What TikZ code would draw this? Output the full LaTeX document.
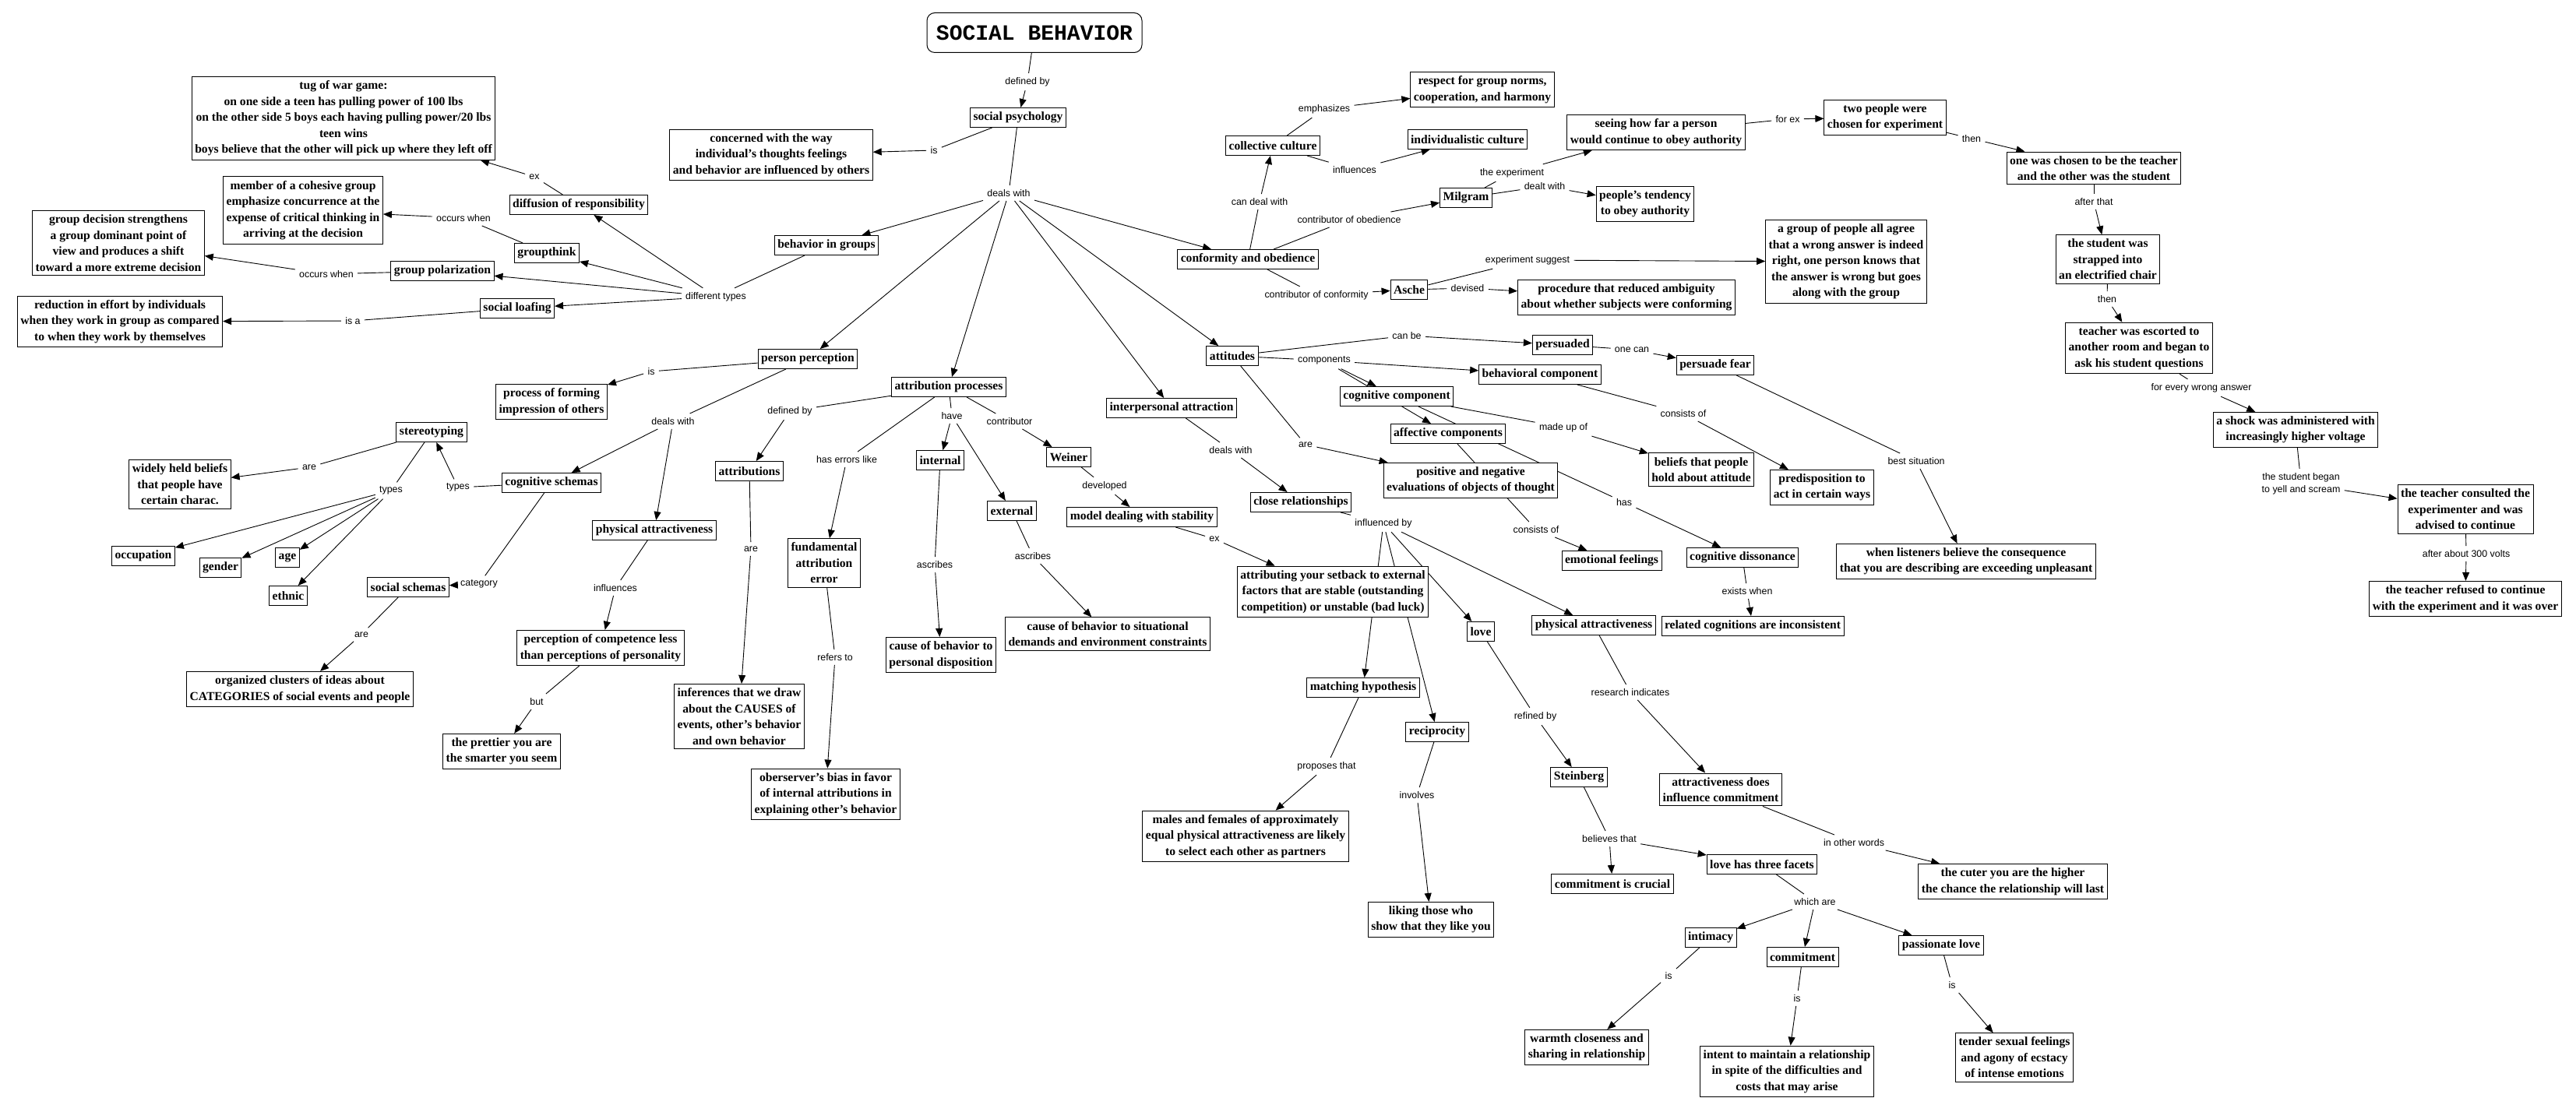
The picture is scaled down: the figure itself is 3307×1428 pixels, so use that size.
\documentclass[tikz,border=0pt]{standalone}
\usepackage{fontspec}
\setmainfont{Liberation Serif}
\setsansfont{Liberation Sans}
\setmonofont{Liberation Mono}
\usetikzlibrary{arrows.meta}
\pgfdeclarelayer{background}
\pgfsetlayers{background,main}

\begin{document}
\begin{tikzpicture}[
  x=0.5pt, y=-0.5pt,
  concept/.style={draw=black, line width=0.5pt, fill=white, align=center,
    inner xsep=2pt, inner ysep=2.6pt, minimum height=12.5pt,
    font=\fontsize{7.8}{10.25}\selectfont\bfseries},
  topic/.style={concept, rounded corners=5pt, minimum width=138pt,
    minimum height=25.5pt, font=\ttfamily\bfseries\fontsize{14}{16}\selectfont},
  phrase/.style={inner sep=2.5pt, align=center,
    font=\sffamily\fontsize{6.2}{8}\selectfont},
  tie/.style={line width=0.45pt, draw=black},
  tiearrow/.style={tie, -{Triangle[length=5.5pt,width=4.5pt]}}
]
\useasboundingbox (0,0) rectangle (3307,1428);
\begin{pgfonlayer}{background}
\fill[white] (0,0) rectangle (3307,1428);
\end{pgfonlayer}

\node[topic] (title) at (1328,42) {SOCIAL BEHAVIOR};
\node[concept] (socpsy) at (1307,151) {social psychology};
\node[concept] (concerned) at (990,199)
  {concerned with the way\\individual's thoughts feelings\\and behavior are influenced by others};
\node[concept] (groups) at (1061,315) {behavior in groups};
\node[concept] (diffusion) at (743,263) {diffusion of responsibility};
\node[concept] (tug) at (441,152)
  {tug of war game:\\on one side a teen has pulling power of 100 lbs\\on the other side 5 boys each having pulling power/20 lbs\\teen wins\\boys believe that the other will pick up where they left off};
\node[concept] (member) at (389,270)
  {member of a cohesive group\\emphasize concurrence at the\\expense of critical thinking in\\arriving at the decision};
\node[concept] (groupthink) at (702,325) {groupthink};
\node[concept] (decision) at (152,312)
  {group decision strengthens\\a group dominant point of\\view and produces a shift\\toward a more extreme decision};
\node[concept] (polar) at (568,348) {group polarization};
\node[concept] (loafing) at (664,396) {social loafing};
\node[concept] (reduction) at (154,413)
  {reduction in effort by individuals\\when they work in group as compared\\to when they work by themselves};

\node[concept] (conform) at (1602,333) {conformity and obedience};
\node[concept] (collective) at (1634,187) {collective culture};
\node[concept] (respect) at (1903,115) {respect for group norms,\\cooperation, and harmony};
\node[concept] (indiv) at (1884,179) {individualistic culture};
\node[concept] (milgram) at (1882,254) {Milgram};
\node[concept] (seeing) at (2126,170)
  {seeing how far a person\\would continue to obey authority};
\node[concept] (tendency) at (2112,262) {people's tendency\\to obey authority};
\node[concept] (twopeople) at (2420,151) {two people were\\chosen for experiment};
\node[concept] (chosen) at (2688,216)
  {one was chosen to be the teacher\\and the other was the student};
\node[concept] (strapped) at (2706,333)
  {the student was\\strapped into\\an electrified chair};
\node[concept] (escorted) at (2746,447)
  {teacher was escorted to\\another room and began to\\ask his student  questions};
\node[concept] (shock) at (2947,552)
  {a shock was administered with\\increasingly higher voltage};
\node[concept] (consulted) at (3165,654)
  {the teacher consulted the\\experimenter and was\\advised to continue};
\node[concept] (refused) at (3165,769)
  {the teacher refused to continue\\with the experiment and it was over};
\node[concept] (asche) at (1809,372) {Asche};
\node[concept] (agree) at (2370,336)
  {a group of people all agree\\that a wrong answer is indeed\\right, one person knows that\\the answer is wrong but goes\\along with the group};
\node[concept] (procedure) at (2088,382)
  {procedure that reduced ambiguity\\about whether subjects were conforming};

\node[concept] (attitudes) at (1582,457) {attitudes};
\node[concept] (persuaded) at (2006,443) {persuaded};
\node[concept] (fear) at (2202,469) {persuade fear};
\node[concept] (listeners) at (2524,721)
  {when listeners believe the consequence\\that you are describing are exceeding unpleasant};
\node[concept] (behav) at (1977,481) {behavioral component};
\node[concept] (cogcomp) at (1793,509) {cognitive component};
\node[concept] (affect) at (1859,557) {affective components};
\node[concept] (posneg) at (1888,617)
  {positive and negative\\evaluations of objects of thought};
\node[concept] (beliefs) at (2184,603) {beliefs that people\\hold about attitude};
\node[concept] (predisp) at (2339,626) {predisposition to\\act in certain ways};
\node[concept] (emotional) at (2069,720) {emotional feelings};
\node[concept] (dissonance) at (2237,716) {cognitive dissonance};
\node[concept] (related) at (2250,804) {related cognitions are inconsistent};

\node[concept] (perception) at (1037,461) {person perception};
\node[concept] (forming) at (708,516) {process of forming\\impression of others};
\node[concept] (cogschema) at (708,620) {cognitive schemas};
\node[concept] (physleft) at (840,681) {physical attractiveness};
\node[concept] (stereo) at (554,555) {stereotyping};
\node[concept] (widely) at (231,622)
  {widely held beliefs\\that people have\\certain charac.};
\node[concept] (occupation) at (184,714) {occupation};
\node[concept] (gender) at (283,729) {gender};
\node[concept] (age) at (369,716) {age};
\node[concept] (ethnic) at (370,765) {ethnic};
\node[concept] (socschema) at (524,754) {social schemas};
\node[concept] (organized) at (385,885)
  {organized clusters of ideas about\\CATEGORIES of social events and people};
\node[concept] (competence) at (771,832)
  {perception of competence less\\than perceptions of personality};
\node[concept] (prettier) at (644,965) {the prettier you are\\the smarter you seem};

\node[concept] (attrproc) at (1218,497) {attribution processes};
\node[concept] (attributions) at (962,605) {attributions};
\node[concept] (fundamental) at (1058,723) {fundamental\\attribution\\error};
\node[concept] (internal) at (1207,591) {internal};
\node[concept] (external) at (1299,656) {external};
\node[concept] (weiner) at (1372,587) {Weiner};
\node[concept] (model) at (1466,664) {model dealing with stability};
\node[concept] (inferences) at (949,920)
  {inferences that we draw\\about the CAUSES of\\events, other's behavior\\and own behavior};
\node[concept] (bias) at (1060,1020)
  {oberserver's bias in favor\\of internal attributions in\\explaining other's behavior};
\node[concept] (personal) at (1208,841) {cause of behavior to\\personal disposition};
\node[concept] (situational) at (1422,814)
  {cause of behavior to situational\\demands and environment constraints};

\node[concept] (interpers) at (1504,524) {interpersonal attraction};
\node[concept] (closerel) at (1670,645) {close relationships};
\node[concept] (setback) at (1711,760)
  {attributing your setback to external\\factors that are stable (outstanding\\competition) or unstable (bad luck)};
\node[concept] (love) at (1901,811) {love};
\node[concept] (physright) at (2046,803) {physical attractiveness};
\node[concept] (matching) at (1750,883) {matching hypothesis};
\node[concept] (reciprocity) at (1845,940) {reciprocity};
\node[concept] (males) at (1599,1074)
  {males and females of approximately\\equal physical attractiveness are likely\\to select each other as partners};
\node[concept] (liking) at (1837,1181) {liking those who\\show that they like you};
\node[concept] (steinberg) at (2027,998) {Steinberg};
\node[concept] (attrdoes) at (2209,1014) {attractiveness does\\influence commitment};
\node[concept] (crucial) at (2070,1135) {commitment is crucial};
\node[concept] (facets) at (2262,1110) {love has three facets};
\node[concept] (cuter) at (2584,1132)
  {the cuter you are the higher\\the chance the relationship will last};
\node[concept] (intimacy) at (2196,1204) {intimacy};
\node[concept] (commitment) at (2314,1229) {commitment};
\node[concept] (passionate) at (2492,1214) {passionate love};
\node[concept] (warmth) at (2037,1345) {warmth closeness and\\sharing in relationship};
\node[concept] (intent) at (2294,1376)
  {intent to maintain a relationship\\in spite of the difficulties and\\costs that may arise};
\node[concept] (tender) at (2586,1358)
  {tender sexual feelings\\and agony of ecstacy\\of intense emotions};

\node[phrase] (ldef) at (1319,105) {defined by};
\node[phrase] (lis1) at (1199,193) {is};
\node[phrase] (ldeals) at (1295,248) {deals with};
\node[phrase] (ltypes) at (919,381) {different types};
\node[phrase] (lex1) at (686,227) {ex};
\node[phrase] (loccur1) at (595,280) {occurs when};
\node[phrase] (loccur2) at (419,352) {occurs when};
\node[phrase] (lisa) at (453,412) {is a};
\node[phrase] (lcandeal) at (1617,259) {can deal with};
\node[phrase] (lemph) at (1700,140) {emphasizes};
\node[phrase] (linflu) at (1739,218) {influences};
\node[phrase] (lobed) at (1732,282) {contributor of obedience};
\node[phrase] (lconf) at (1690,379) {contributor of conformity};
\node[phrase] (lexper) at (1941,222) {the experiment};
\node[phrase] (ldealt) at (1983,239) {dealt with};
\node[phrase] (lforex) at (2295,153) {for ex};
\node[phrase] (lthen1) at (2531,178) {then};
\node[phrase] (lafter) at (2688,259) {after that};
\node[phrase] (lthen2) at (2705,384) {then};
\node[phrase] (lwrong) at (2826,498) {for every wrong answer};
\node[phrase] (lyell) at (2954,621) {the student began\\to yell and scream};
\node[phrase] (l300) at (3166,711) {after about 300 volts};
\node[phrase] (lsuggest) at (1961,334) {experiment suggest};
\node[phrase] (ldevised) at (1884,370) {devised};
\node[phrase] (lcanbe) at (1806,431) {can be};
\node[phrase] (lonecan) at (2095,449) {one can};
\node[phrase] (lbest) at (2460,592) {best situation};
\node[phrase] (lcomp) at (1700,463) {components};
\node[phrase] (lare3) at (1676,571) {are};
\node[phrase] (lmade) at (2007,549) {made up of};
\node[phrase] (lconsist1) at (2161,531) {consists of};
\node[phrase] (lhas) at (2085,645) {has};
\node[phrase] (lconsist2) at (1972,680) {consists of};
\node[phrase] (lexists) at (2243,759) {exists when};
\node[phrase] (lis2) at (836,477) {is};
\node[phrase] (ldeals2) at (864,541) {deals with};
\node[phrase] (ltypes2) at (588,626) {types};
\node[phrase] (ltypes3) at (502,630) {types};
\node[phrase] (lare1) at (397,600) {are};
\node[phrase] (lcat) at (615,750) {category};
\node[phrase] (lare2) at (464,815) {are};
\node[phrase] (linflu2) at (790,755) {influences};
\node[phrase] (lbut) at (689,901) {but};
\node[phrase] (ldef2) at (1014,528) {defined by};
\node[phrase] (lerrors) at (1087,590) {has errors like};
\node[phrase] (lhave) at (1222,534) {have};
\node[phrase] (lcontrib) at (1296,541) {contributor};
\node[phrase] (ldevel) at (1418,624) {developed};
\node[phrase] (lex2) at (1559,692) {ex};
\node[phrase] (lare4) at (964,705) {are};
\node[phrase] (lrefers) at (1072,844) {refers to};
\node[phrase] (lascr1) at (1200,725) {ascribes};
\node[phrase] (lascr2) at (1326,714) {ascribes};
\node[phrase] (ldeals3) at (1580,578) {deals with};
\node[phrase] (linfby) at (1776,672) {influenced by};
\node[phrase] (lrefined) at (1971,920) {refined by};
\node[phrase] (lresearch) at (2093,889) {research indicates};
\node[phrase] (lproposes) at (1703,984) {proposes that};
\node[phrase] (linvolves) at (1819,1021) {involves};
\node[phrase] (lbelieves) at (2066,1077) {believes that};
\node[phrase] (lother) at (2380,1082) {in other words};
\node[phrase] (lwhich) at (2330,1158) {which are};
\node[phrase] (lis3) at (2142,1253) {is};
\node[phrase] (lis4) at (2307,1282) {is};
\node[phrase] (lis5) at (2506,1265) {is};

\begin{pgfonlayer}{background}
\draw[tie] (title) -- (ldef);
\draw[tiearrow] (ldef) -- (socpsy);
\draw[tie] (socpsy) -- (lis1);
\draw[tiearrow] (lis1) -- (concerned);
\draw[tie] (socpsy) -- (ldeals);
\draw[tiearrow] (ldeals) -- (groups);
\draw[tiearrow] (ldeals) -- (perception);
\draw[tiearrow] (ldeals) -- (attrproc);
\draw[tiearrow] (ldeals) -- (interpers);
\draw[tiearrow] (ldeals) -- (attitudes);
\draw[tiearrow] (ldeals) -- (conform);

\draw[tie] (groups) -- (ltypes);
\draw[tiearrow] (ltypes) -- (diffusion);
\draw[tiearrow] (ltypes) -- (groupthink);
\draw[tiearrow] (ltypes) -- (polar);
\draw[tiearrow] (ltypes) -- (loafing);
\draw[tie] (diffusion) -- (lex1);
\draw[tiearrow] (lex1) -- (tug);
\draw[tie] (groupthink) -- (loccur1);
\draw[tiearrow] (loccur1) -- (member);
\draw[tie] (polar) -- (loccur2);
\draw[tiearrow] (loccur2) -- (decision);
\draw[tie] (loafing) -- (lisa);
\draw[tiearrow] (lisa) -- (reduction);

\draw[tie] (conform) -- (lcandeal);
\draw[tiearrow] (lcandeal) -- (collective);
\draw[tie] (collective) -- (lemph);
\draw[tiearrow] (lemph) -- (respect);
\draw[tie] (collective) -- (linflu);
\draw[tiearrow] (linflu) -- (indiv);
\draw[tie] (conform) -- (lobed);
\draw[tiearrow] (lobed) -- (milgram);
\draw[tie] (conform) -- (lconf);
\draw[tiearrow] (lconf) -- (asche);
\draw[tie] (milgram) -- (lexper);
\draw[tiearrow] (lexper) -- (seeing);
\draw[tie] (milgram) -- (ldealt);
\draw[tiearrow] (ldealt) -- (tendency);
\draw[tie] (seeing) -- (lforex);
\draw[tiearrow] (lforex) -- (twopeople);
\draw[tie] (twopeople) -- (lthen1);
\draw[tiearrow] (lthen1) -- (chosen);
\draw[tie] (chosen) -- (lafter);
\draw[tiearrow] (lafter) -- (strapped);
\draw[tie] (strapped) -- (lthen2);
\draw[tiearrow] (lthen2) -- (escorted);
\draw[tie] (escorted) -- (lwrong);
\draw[tiearrow] (lwrong) -- (shock);
\draw[tie] (shock) -- (lyell);
\draw[tiearrow] (lyell) -- (consulted);
\draw[tie] (consulted) -- (l300);
\draw[tiearrow] (l300) -- (refused);
\draw[tie] (asche) -- (lsuggest);
\draw[tiearrow] (lsuggest) -- (agree);
\draw[tie] (asche) -- (ldevised);
\draw[tiearrow] (ldevised) -- (procedure);

\draw[tie] (attitudes) -- (lcanbe);
\draw[tiearrow] (lcanbe) -- (persuaded);
\draw[tie] (persuaded) -- (lonecan);
\draw[tiearrow] (lonecan) -- (fear);
\draw[tie] (fear) -- (lbest);
\draw[tiearrow] (lbest) -- (listeners);
\draw[tie] (attitudes) -- (lcomp);
\draw[tiearrow] (lcomp) -- (behav);
\draw[tiearrow] (lcomp) -- (cogcomp);
\draw[tiearrow] (lcomp) -- (affect);
\draw[tie] (attitudes) -- (lare3);
\draw[tiearrow] (lare3) -- (posneg);
\draw[tie] (cogcomp) -- (lmade);
\draw[tiearrow] (lmade) -- (beliefs);
\draw[tie] (behav) -- (lconsist1);
\draw[tiearrow] (lconsist1) -- (predisp);
\draw[tie] (cogcomp) -- (lhas);
\draw[tiearrow] (lhas) -- (dissonance);
\draw[tie] (affect) -- (lconsist2);
\draw[tiearrow] (lconsist2) -- (emotional);
\draw[tie] (dissonance) -- (lexists);
\draw[tiearrow] (lexists) -- (related);

\draw[tie] (perception) -- (lis2);
\draw[tiearrow] (lis2) -- (forming);
\draw[tie] (perception) -- (ldeals2);
\draw[tiearrow] (ldeals2) -- (cogschema);
\draw[tiearrow] (ldeals2) -- (physleft);
\draw[tie] (cogschema) -- (ltypes2);
\draw[tiearrow] (ltypes2) -- (stereo);
\draw[tie] (stereo) -- (lare1);
\draw[tiearrow] (lare1) -- (widely);
\draw[tie] (stereo) -- (ltypes3);
\draw[tiearrow] (ltypes3) -- (occupation);
\draw[tiearrow] (ltypes3) -- (gender);
\draw[tiearrow] (ltypes3) -- (age);
\draw[tiearrow] (ltypes3) -- (ethnic);
\draw[tie] (cogschema) -- (lcat);
\draw[tiearrow] (lcat) -- (socschema);
\draw[tie] (socschema) -- (lare2);
\draw[tiearrow] (lare2) -- (organized);
\draw[tie] (physleft) -- (linflu2);
\draw[tiearrow] (linflu2) -- (competence);
\draw[tie] (competence) -- (lbut);
\draw[tiearrow] (lbut) -- (prettier);

\draw[tie] (attrproc) -- (ldef2);
\draw[tiearrow] (ldef2) -- (attributions);
\draw[tie] (attrproc) -- (lerrors);
\draw[tiearrow] (lerrors) -- (fundamental);
\draw[tie] (attrproc) -- (lhave);
\draw[tiearrow] (lhave) -- (internal);
\draw[tiearrow] (lhave) -- (external);
\draw[tie] (attrproc) -- (lcontrib);
\draw[tiearrow] (lcontrib) -- (weiner);
\draw[tie] (weiner) -- (ldevel);
\draw[tiearrow] (ldevel) -- (model);
\draw[tie] (model) -- (lex2);
\draw[tiearrow] (lex2) -- (setback);
\draw[tie] (attributions) -- (lare4);
\draw[tiearrow] (lare4) -- (inferences);
\draw[tie] (fundamental) -- (lrefers);
\draw[tiearrow] (lrefers) -- (bias);
\draw[tie] (internal) -- (lascr1);
\draw[tiearrow] (lascr1) -- (personal);
\draw[tie] (external) -- (lascr2);
\draw[tiearrow] (lascr2) -- (situational);

\draw[tie] (interpers) -- (ldeals3);
\draw[tiearrow] (ldeals3) -- (closerel);
\draw[tie] (closerel) -- (linfby);
\draw[tiearrow] (linfby) -- (matching);
\draw[tiearrow] (linfby) -- (reciprocity);
\draw[tiearrow] (linfby) -- (love);
\draw[tiearrow] (linfby) -- (physright);
\draw[tie] (matching) -- (lproposes);
\draw[tiearrow] (lproposes) -- (males);
\draw[tie] (reciprocity) -- (linvolves);
\draw[tiearrow] (linvolves) -- (liking);
\draw[tie] (love) -- (lrefined);
\draw[tiearrow] (lrefined) -- (steinberg);
\draw[tie] (physright) -- (lresearch);
\draw[tiearrow] (lresearch) -- (attrdoes);
\draw[tie] (steinberg) -- (lbelieves);
\draw[tiearrow] (lbelieves) -- (crucial);
\draw[tiearrow] (lbelieves) -- (facets);
\draw[tie] (attrdoes) -- (lother);
\draw[tiearrow] (lother) -- (cuter);
\draw[tie] (facets) -- (lwhich);
\draw[tiearrow] (lwhich) -- (intimacy);
\draw[tiearrow] (lwhich) -- (commitment);
\draw[tiearrow] (lwhich) -- (passionate);
\draw[tie] (intimacy) -- (lis3);
\draw[tiearrow] (lis3) -- (warmth);
\draw[tie] (commitment) -- (lis4);
\draw[tiearrow] (lis4) -- (intent);
\draw[tie] (passionate) -- (lis5);
\draw[tiearrow] (lis5) -- (tender);
\end{pgfonlayer}
\end{tikzpicture}
\end{document}
